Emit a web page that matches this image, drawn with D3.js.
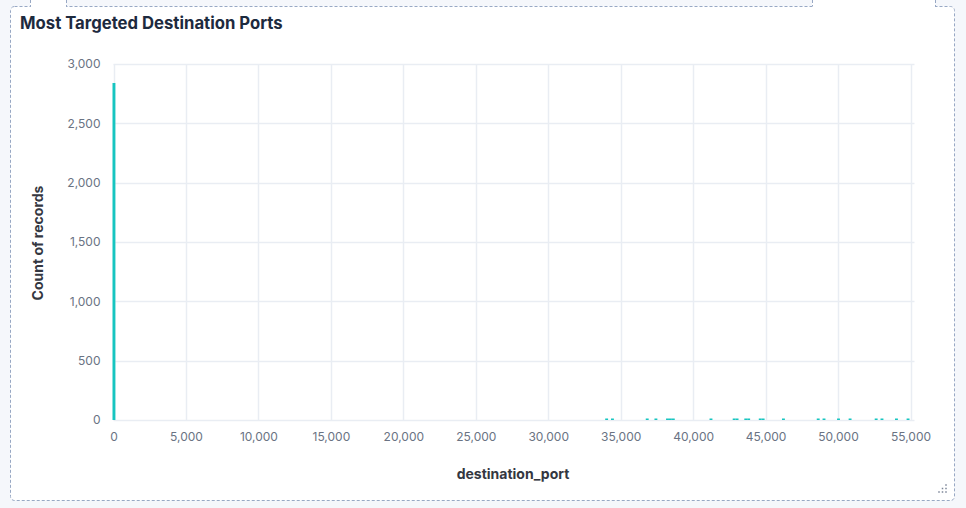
<!DOCTYPE html>
<html><head><meta charset="utf-8">
<script src="https://cdn.jsdelivr.net/npm/d3@7"></script>
<style>
html,body{margin:0;padding:0;background:#f5f7fb;}
svg{display:block;font-family:Inter, "Noto Sans", sans-serif;}
</style></head>
<body>
<svg id="c" width="966" height="508"></svg>
<script>
// Data
const binStarts = [0, 34000, 34400, 36800, 37400, 38200, 38400, 38600, 41200, 42800, 43000, 43600, 43800, 44600, 44800, 46200, 48600, 49000, 50000, 50800, 52600, 53000, 54000, 54800];
const counts    = [2840, 12, 12, 10, 12, 12, 12, 12, 10, 12, 12, 12, 12, 12, 12, 10, 10, 10, 12, 10, 12, 12, 10, 10];
const binWidth = 200;
const xTicks = [0,5000,10000,15000,20000,25000,30000,35000,40000,45000,50000,55000];
const yTicks = [0,500,1000,1500,2000,2500,3000];
const title = "Most Targeted Destination Ports";
const xTitle = "destination_port";
const yTitle = "Count of records";

const svg = d3.select("#c");
const dash = "#98a8c4";

// neighbouring panels at top
[[30,66],[812,935]].forEach(([a,b])=>{
  svg.append("rect").attr("x",a).attr("y",-10).attr("width",b-a).attr("height",16.5).attr("fill","#fff");
  svg.append("line").attr("x1",a+0.5).attr("x2",a+0.5).attr("y1",0).attr("y2",6).attr("stroke",dash).attr("stroke-dasharray","3,2");
  svg.append("line").attr("x1",b+0.5).attr("x2",b+0.5).attr("y1",0).attr("y2",6).attr("stroke",dash).attr("stroke-dasharray","3,2");
});

// main panel
svg.append("rect").attr("x",10.5).attr("y",6.5).attr("width",944).attr("height",494).attr("rx",4)
  .attr("fill","#fff").attr("stroke",dash).attr("stroke-dasharray","3,2");
[[31,66],[813,935]].forEach(([a,b])=>{
  svg.append("rect").attr("x",a).attr("y",5).attr("width",b-a).attr("height",3).attr("fill","#fff");
});

svg.append("text").attr("x",20).attr("y",28.5).text(title)
  .attr("font-size",16.7).attr("font-weight",700).attr("fill","#1d2a3e");

const x = d3.scaleLinear().domain([0,55000]).range([113.5,910.5]);
const y = d3.scaleLinear().domain([0,3000]).range([420,64]);

const g = svg.append("g");
g.selectAll(".vg").data(xTicks).join("line")
  .attr("x1",d=>Math.round(x(d))+0.5).attr("x2",d=>Math.round(x(d))+0.5).attr("y1",y(3000)).attr("y2",y(0))
  .attr("stroke","#e9edf3").attr("stroke-width",1.5);
g.selectAll(".hg").data(yTicks).join("line")
  .attr("x1",x(0)).attr("x2",x(55000)+4).attr("y1",d=>Math.round(y(d))+0.5).attr("y2",d=>Math.round(y(d))+0.5)
  .attr("stroke","#e9edf3").attr("stroke-width",1.5);

const data = binStarts.map((b,i)=>({b, c:counts[i]}));
g.selectAll(".bar").data(data).join("rect")
  .attr("x",d=>x(d.b)-1).attr("width",d=>Math.max(2.5, x(d.b+binWidth)-x(d.b)))
  .attr("y",d=>Math.min(y(d.c), y(0)-1.5)).attr("height",d=>Math.max(1.5, y(0)-y(d.c)))
  .attr("fill","#16c5c0");

const xAxis = d3.axisBottom(x).tickValues(xTicks).tickFormat(d3.format(",")).tickSize(0).tickPadding(12.5);
const xa = svg.append("g").attr("transform",`translate(0,${y(0)})`).call(xAxis);
xa.select(".domain").remove();
xa.selectAll("text").attr("font-size",12).attr("fill","#6a7383").attr("font-family","Inter");

const yAxis = d3.axisLeft(y).tickValues(yTicks).tickFormat(d3.format(",")).tickSize(0).tickPadding(13);
const ya = svg.append("g").attr("transform",`translate(${x(0)},0)`).call(yAxis);
ya.select(".domain").remove();
ya.selectAll("text").attr("font-size",12).attr("fill","#6a7383").attr("font-family","Inter");

svg.append("text").attr("x",513).attr("y",478.5).attr("text-anchor","middle").text(xTitle)
  .attr("font-size",14).attr("font-weight",700).attr("fill","#343741");
svg.append("text").attr("transform","translate(43,243) rotate(-90)").attr("text-anchor","middle").text(yTitle)
  .attr("font-size",14).attr("font-weight",700).attr("fill","#343741");

const dots = [[946,485],[946,488.5],[946,492],[942.5,488.5],[942.5,492],[939,492]];
svg.selectAll(".dot").data(dots).join("rect").attr("x",d=>d[0]-0.75).attr("y",d=>d[1]-0.75).attr("width",1.5).attr("height",1.5).attr("fill","#7c8698");
</script>
</body></html>
